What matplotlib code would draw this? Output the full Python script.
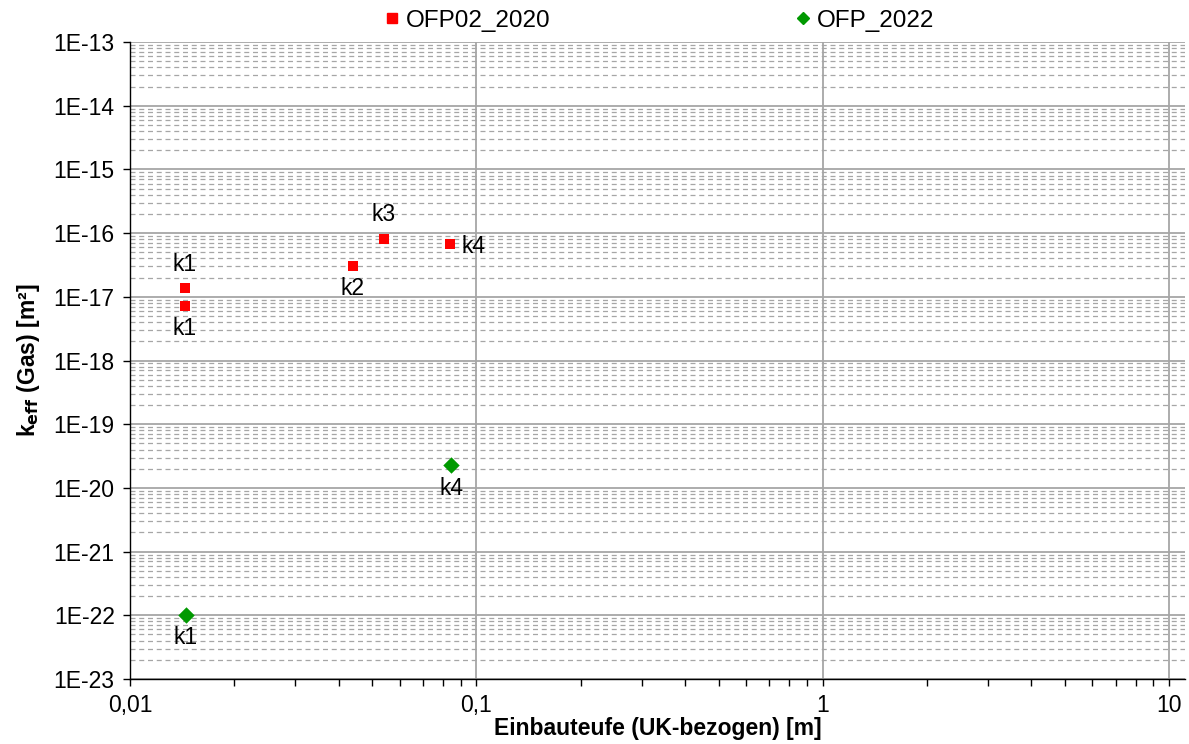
import math
import matplotlib
matplotlib.use("Agg")
import matplotlib.pyplot as plt
from matplotlib.ticker import LogLocator, FixedLocator, NullFormatter, FuncFormatter
from matplotlib.lines import Line2D

plt.rcParams['font.family'] = ['Liberation Sans', 'DejaVu Sans']

# Data
s1_name = "OFP02_2020"
s1_x = [0.0144, 0.0144, 0.044, 0.054, 0.084]
s1_y = [1.36e-17, 7.2e-18, 3.1e-17, 8.2e-17, 6.8e-17]
s1_lab = ["k1", "k1", "k2", "k3", "k4"]
s1_pos = ["above", "below", "below", "above", "right"]

s2_name = "OFP_2022"
s2_x = [0.0145, 0.0845]
s2_y = [1.0e-22, 2.25e-20]
s2_lab = ["k1", "k4"]
s2_pos = ["below", "below"]

x_ticks = [0.01, 0.1, 1, 10]
x_ticklabels = ["0,01", "0,1", "1", "10"]
y_exps = list(range(-23, -12))

FS = 16.5

fig = plt.figure(figsize=(11.89, 7.44), dpi=100)
ax = fig.add_axes([0.1093, 0.0874, 0.8873, 0.8561])
ax.set_xscale('log')
ax.set_yscale('log')
ax.set_xlim(0.01, 11.1)
ax.set_ylim(1e-23, 1e-13)

ax.set_axisbelow(True)
ax.yaxis.set_major_locator(FixedLocator([10.0**e for e in y_exps]))
ax.yaxis.set_minor_locator(LogLocator(base=10, subs=range(2, 10), numticks=100))
ax.yaxis.set_minor_formatter(NullFormatter())
ax.yaxis.set_major_formatter(FuncFormatter(lambda v, p: "1E%d" % round(math.log10(v))))
ax.xaxis.set_major_locator(FixedLocator(x_ticks))
ax.xaxis.set_minor_locator(LogLocator(base=10, subs=range(2, 10), numticks=100))
ax.xaxis.set_minor_formatter(NullFormatter())
ax.set_xticklabels(x_ticklabels)

ax.grid(True, which='major', axis='both', color='#a6a6a6', linewidth=1.3, linestyle='-')
ax.grid(True, which='minor', axis='y', color='#a6a6a6', linewidth=0.9, linestyle=(0, (4, 3)))

for side in ['top', 'right']:
    ax.spines[side].set_visible(False)
for side in ['left', 'bottom']:
    ax.spines[side].set_color('black')
    ax.spines[side].set_linewidth(1.0)

ax.tick_params(axis='both', which='major', direction='out', length=5, width=1, colors='black', labelsize=FS)
ax.tick_params(axis='y', which='minor', length=0)
ax.tick_params(axis='x', which='minor', direction='out', length=5, width=1)
ax.tick_params(axis='x', which='major', pad=6)
ax.tick_params(axis='y', which='major', pad=6)

ax.scatter(s1_x, s1_y, marker='s', s=60, color='#ff0000', zorder=3, linewidths=0)
ax.scatter(s2_x, s2_y, marker='D', s=70, color='#009900', zorder=3, linewidths=0)

def annotate(xs, ys, labs, poss):
    for x, y, l, p in zip(xs, ys, labs, poss):
        if p == 'above':
            ax.annotate(l, (x, y), xytext=(0, 9), textcoords='offset points', ha='center', va='bottom', fontsize=FS)
        elif p == 'below':
            ax.annotate(l, (x, y), xytext=(0, -8), textcoords='offset points', ha='center', va='top', fontsize=FS)
        else:
            ax.annotate(l, (x, y), xytext=(8, -2), textcoords='offset points', ha='left', va='center', fontsize=FS)

annotate(s1_x, s1_y, s1_lab, s1_pos)
annotate(s2_x, s2_y, s2_lab, s2_pos)

ax.set_xlabel("Einbauteufe (UK-bezogen) [m]", fontsize=FS, fontweight='bold', labelpad=0)
ax.set_ylabel(r"k$_{\mathbf{eff}}$ (Gas) [m²]", fontsize=FS, fontweight='bold', labelpad=8)

handles = [Line2D([], [], marker='s', color='#ff0000', linestyle='None', markersize=7),
           Line2D([], [], marker='D', color='#009900', linestyle='None', markersize=6)]
fig.legend(handles, [s1_name, s2_name], loc='center', bbox_to_anchor=(0.5525, 0.972), ncol=2,
           frameon=False, fontsize=17.5, handletextpad=0.05, columnspacing=9.9, handlelength=1.0)

fig.savefig("out.png", dpi=100)
